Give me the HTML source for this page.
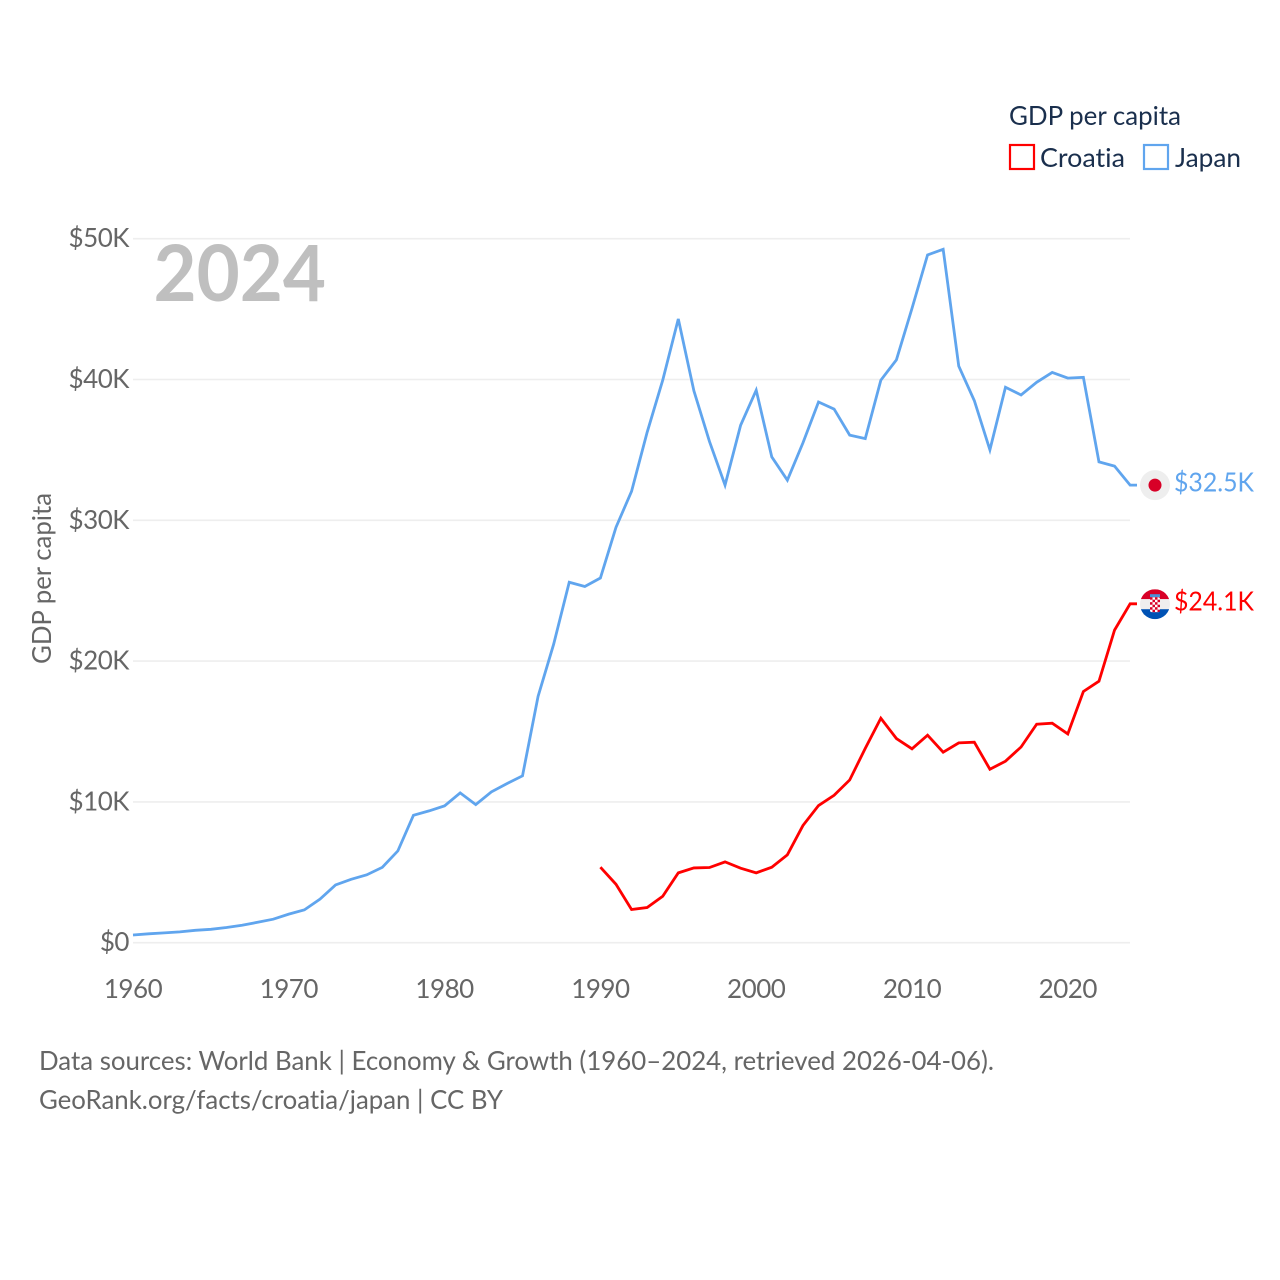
<!DOCTYPE html>
<html lang="en">
<head>
<meta charset="utf-8">
<title>GDP per capita: Croatia and Japan</title>
<style>
  html, body { margin: 0; padding: 0; background: #fff; }
  svg { display: block; font-family: "Lato", "Carlito", "Liberation Sans", sans-serif; font-variant-ligatures: none; }
</style>
</head>
<body>
<svg id="chart" xmlns="http://www.w3.org/2000/svg" width="1280" height="1280" viewBox="0 0 1280 1280">
  <defs>
    <clipPath id="flag-clip-hr"><circle cx="0" cy="0" r="15"/></clipPath>
    <pattern id="checker" width="5" height="5" patternUnits="userSpaceOnUse" x="-5" y="-7">
      <rect width="5" height="5" fill="#fff"/>
      <rect width="2.5" height="2.5" fill="#d80027"/>
      <rect x="2.5" y="2.5" width="2.5" height="2.5" fill="#d80027"/>
    </pattern>
  </defs>
  <rect width="1280" height="1280" fill="#fff"/>
  <g id="grid"></g>
  <g id="y-ticks"></g>
  <g id="x-ticks"></g>
  <text x="153.5" y="301" font-size="78" font-weight="700" fill="#bfbfbf" textLength="172.5" lengthAdjust="spacingAndGlyphs">2024</text>
  <text transform="translate(51,664) rotate(-90)" font-size="26" fill="#666" textLength="171" lengthAdjust="spacingAndGlyphs">GDP per capita</text>
  <g id="series"></g>
  <g id="flags"></g>
  <g>
    <text x="1009" y="125" font-size="26" fill="#1a2f4d" textLength="172" lengthAdjust="spacingAndGlyphs">GDP per capita</text>
    <g>
      <rect x="1010" y="145" width="24" height="24" fill="none" stroke="#ff0000" stroke-width="2.2"/>
      <text x="1040" y="167" font-size="26" fill="#1a2f4d" textLength="85" lengthAdjust="spacingAndGlyphs">Croatia</text>
    </g>
    <g>
      <rect x="1144" y="145" width="24" height="24" fill="none" stroke="#60a5ee" stroke-width="2.2"/>
      <text x="1175" y="167" font-size="26" fill="#1a2f4d" textLength="66" lengthAdjust="spacingAndGlyphs">Japan</text>
    </g>
  </g>
  <text x="39" y="1070" font-size="26" fill="#666" textLength="955" lengthAdjust="spacingAndGlyphs">Data sources: World Bank | Economy &amp; Growth (1960–2024, retrieved 2026-04-06).</text>
  <text x="39" y="1109" font-size="26" fill="#666" textLength="464" lengthAdjust="spacingAndGlyphs">GeoRank.org/facts/croatia/japan | CC BY</text>
</svg>
<script>
const japanStartYear = 1960;
const japanValues = [0.55,0.63,0.70,0.77,0.88,0.95,1.08,1.24,1.45,1.67,2.03,2.33,3.09,4.10,4.50,4.82,5.35,6.52,9.05,9.36,9.72,10.64,9.81,10.71,11.30,11.85,17.50,21.20,25.60,25.30,25.90,29.50,32.06,36.25,39.95,44.30,39.20,35.60,32.50,36.75,39.24,34.50,32.85,35.50,38.40,37.90,36.05,35.80,39.95,41.40,45.05,48.85,49.25,40.95,38.50,35.00,39.45,38.90,39.80,40.50,40.10,40.15,34.15,33.85,32.50];
const croatiaStartYear = 1990;
const croatiaValues = [5.36,4.15,2.36,2.50,3.30,4.96,5.31,5.34,5.74,5.29,4.96,5.36,6.24,8.32,9.74,10.47,11.56,13.80,15.94,14.50,13.77,14.74,13.53,14.19,14.24,12.32,12.89,13.90,15.52,15.59,14.83,17.84,18.57,22.20,24.07];
const yTickValues = [0,10,20,30,40,50];
const yTickLabels = ["$0","$10K","$20K","$30K","$40K","$50K"];
const xTickValues = [1960,1970,1980,1990,2000,2010,2020];
const xTickLabels = ["1960","1970","1980","1990","2000","2010","2020"];
const japanEndLabel = "$32.5K";
const croatiaEndLabel = "$24.1K";

const NS = 'http://www.w3.org/2000/svg';
function xScale(year) { return 133 + (year - 1960) * 15.58; }
function yScale(v) { return 942.7 - v * 14.08; }
function make(tag, attrs, parent) {
  const el = document.createElementNS(NS, tag);
  for (const k in attrs) el.setAttribute(k, attrs[k]);
  parent.appendChild(el);
  return el;
}
const gridG = document.getElementById('grid');
const yG = document.getElementById('y-ticks');
const xG = document.getElementById('x-ticks');
const seriesG = document.getElementById('series');
const flagsG = document.getElementById('flags');

yTickValues.forEach(function (v, i) {
  const line = make('line', {x1: 133, x2: 1130, y1: yScale(v), y2: yScale(v), stroke: '#eeeeee', 'stroke-width': 1.6}, gridG);
  
  
  const t = make('text', {x: 129, y: yScale(v) + 8.5, 'text-anchor': 'end', 'font-size': 26, 'letter-spacing': '-0.5', fill: '#666'}, yG);
  
  
  t.textContent = yTickLabels[i];
});
xTickValues.forEach(function (yr, i) {
  const t = make('text', {x: xScale(yr), y: 998, 'text-anchor': 'middle', 'font-size': 26, 'letter-spacing': '-0.5', fill: '#666'}, xG);
  
  
  t.textContent = xTickLabels[i];
});
function pathFor(values, startYear) {
  const pts = values.map(function (v, i) { return xScale(startYear + i).toFixed(2) + ',' + yScale(v).toFixed(2); });
  const last = values[values.length - 1];
  pts.push('1137,' + yScale(last).toFixed(2));
  return pts.join(' ');
}
const japanLine = make('polyline', {points: pathFor(japanValues, japanStartYear), fill: 'none', stroke: '#60a5ee', 'stroke-width': 2.8, 'stroke-linejoin': 'miter'}, seriesG);


const croatiaLine = make('polyline', {points: pathFor(croatiaValues, croatiaStartYear), fill: 'none', stroke: '#ff0000', 'stroke-width': 2.8, 'stroke-linejoin': 'miter'}, seriesG);



const jy = yScale(japanValues[japanValues.length - 1]);
const hy = yScale(croatiaValues[croatiaValues.length - 1]);

const jFlag = make('g', {transform: 'translate(1155,' + jy.toFixed(2) + ')'}, flagsG);


make('circle', {r: 15, fill: '#eeeeee'}, jFlag);
make('circle', {r: 6.5, fill: '#d80027'}, jFlag);

const hFlag = make('g', {transform: 'translate(1155,' + (hy + 0.4).toFixed(2) + ')'}, flagsG);


const hClip = make('g', {'clip-path': 'url(#flag-clip-hr)'}, hFlag);
make('rect', {x: -15, y: -15, width: 30, height: 10, fill: '#d80027'}, hClip);
make('rect', {x: -15, y: -5, width: 30, height: 10, fill: '#eeeeee'}, hClip);
make('rect', {x: -15, y: 5, width: 30, height: 10, fill: '#0052b4'}, hClip);
make('rect', {x: -5, y: -10, width: 10, height: 3, fill: '#4a90d9'}, hClip);
make('rect', {x: -5, y: -7, width: 10, height: 15, rx: 2, fill: 'url(#checker)'}, hClip);

const jLabel = make('text', {x: 1174, y: (jy + 6.5).toFixed(2), 'font-size': 26, fill: '#60a5ee', textLength: 80, lengthAdjust: 'spacingAndGlyphs'}, flagsG);


jLabel.textContent = japanEndLabel;
const hLabel = make('text', {x: 1174, y: (hy + 6.5).toFixed(2), 'font-size': 26, fill: '#ff0000', textLength: 80, lengthAdjust: 'spacingAndGlyphs'}, flagsG);


hLabel.textContent = croatiaEndLabel;
</script>
</body>
</html>
